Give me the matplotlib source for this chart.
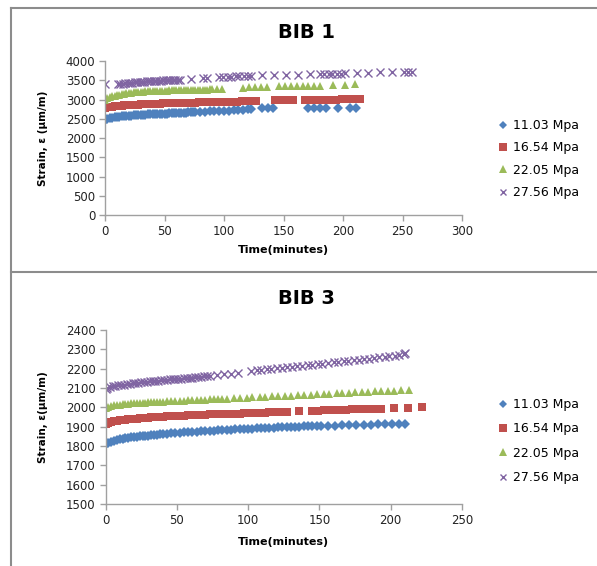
import matplotlib
matplotlib.use("Agg")
import matplotlib.pyplot as plt
from matplotlib.lines import Line2D

labels = ["11.03 Mpa", "16.54 Mpa", "22.05 Mpa", "27.56 Mpa"]
colors = ["#4F81BD", "#C0504D", "#9BBB59", "#8064A2"]
markers = ["D", "s", "^", "x"]
msizes = [4.6, 5.8, 6.0, 5.4]

##### BIB 1 data
b1_t1 = [0, 2, 4, 6, 8, 10, 12, 14, 16, 18, 20, 22, 24, 26, 28, 30, 32, 34, 36, 38, 40, 42, 44, 46, 48, 50,
         52, 54, 56, 58, 60, 62, 64, 66, 68, 70, 72, 74, 76, 80, 84, 88, 92, 96, 100, 104, 108, 112, 116, 120,
         123, 132, 137, 141, 171, 176, 181, 186, 196, 206, 211]
b1_s1 = [2480, 2500, 2515, 2525, 2535, 2545, 2552, 2560, 2566, 2572, 2578, 2583, 2588, 2592, 2596, 2600, 2604,
         2608, 2612, 2615, 2618, 2621, 2624, 2627, 2630, 2633, 2636, 2639, 2642, 2645, 2648, 2651, 2654, 2657,
         2660, 2663, 2666, 2669, 2672, 2680, 2686, 2692, 2698, 2703, 2708, 2712, 2718, 2725, 2740, 2760, 2765,
         2775, 2775, 2775, 2780, 2780, 2780, 2780, 2785, 2785, 2785]
b1_t2 = [0, 2, 4, 6, 8, 10, 12, 14, 16, 18, 20, 22, 24, 26, 28, 30, 32, 34, 36, 38, 43, 46, 49, 52, 55, 58, 61,
         64, 67, 70, 73, 76, 79, 82, 85, 88, 91, 94, 97, 103, 107, 111, 115, 119, 123, 127, 143, 148, 153, 158,
         168, 173, 178, 183, 189, 194, 199, 204, 209, 214]
b1_s2 = [2790, 2800, 2810, 2818, 2825, 2832, 2838, 2843, 2848, 2852, 2856, 2860, 2864, 2867, 2870, 2873, 2876,
         2879, 2882, 2885, 2890, 2894, 2897, 2900, 2903, 2906, 2909, 2912, 2914, 2917, 2919, 2922, 2924, 2926,
         2928, 2931, 2933, 2935, 2937, 2942, 2945, 2948, 2951, 2954, 2957, 2960, 2975, 2978, 2981, 2984, 2990,
         2992, 2994, 2996, 2998, 3000, 3002, 3004, 3006, 3008]
b1_t3 = [0, 2, 4, 6, 8, 10, 12, 14, 16, 18, 20, 22, 24, 26, 28, 30, 32, 34, 36, 38, 40, 42, 44, 46, 48, 50, 52,
         54, 56, 58, 60, 62, 64, 66, 68, 70, 72, 74, 76, 78, 80, 82, 84, 86, 88, 90, 94, 98, 116, 121, 126, 131,
         136, 146, 151, 156, 161, 166, 171, 176, 181, 192, 202, 210]
b1_s3 = [2990, 3030, 3060, 3080, 3095, 3110, 3125, 3140, 3150, 3160, 3170, 3178, 3185, 3190, 3195, 3200, 3204,
         3208, 3212, 3215, 3218, 3221, 3224, 3226, 3228, 3230, 3232, 3234, 3236, 3238, 3240, 3241, 3243, 3244,
         3246, 3247, 3249, 3250, 3252, 3253, 3255, 3256, 3258, 3259, 3260, 3262, 3264, 3266, 3310, 3315, 3318,
         3322, 3325, 3340, 3343, 3346, 3349, 3352, 3355, 3358, 3360, 3370, 3385, 3390]
b1_t4 = [0, 11, 13, 15, 17, 19, 21, 23, 25, 27, 29, 31, 33, 35, 37, 39, 41, 43, 45, 47, 49, 51, 53, 55, 57, 59,
         61, 63, 72, 82, 86, 96, 99, 103, 106, 110, 113, 117, 120, 123, 132, 142, 152, 162, 172, 181, 184, 188,
         191, 195, 198, 202, 212, 221, 231, 241, 251, 255, 258]
b1_s4 = [3390, 3400, 3408, 3415, 3422, 3428, 3434, 3440, 3445, 3450, 3455, 3460, 3464, 3468, 3472, 3476, 3480,
         3484, 3488, 3492, 3495, 3498, 3502, 3505, 3508, 3511, 3514, 3517, 3540, 3550, 3555, 3590, 3592, 3594,
         3596, 3598, 3600, 3602, 3604, 3606, 3625, 3630, 3640, 3645, 3650, 3665, 3667, 3668, 3670, 3672, 3674,
         3676, 3685, 3700, 3702, 3705, 3710, 3712, 3712]

##### BIB 3 data
b3_t1 = [0, 2, 4, 6, 8, 10, 12, 14, 16, 18, 20, 22, 24, 26, 28, 30, 32, 34, 36, 38, 40, 43, 46, 49, 52, 55, 58,
         61, 64, 67, 70, 73, 76, 79, 82, 85, 88, 91, 94, 97, 100, 103, 106, 109, 112, 115, 118, 121, 124, 127,
         130, 133, 136, 139, 142, 145, 148, 151, 156, 161, 166, 171, 176, 181, 186, 191, 196, 201, 206, 210]
b3_s1 = [1808, 1817, 1823, 1828, 1832, 1835, 1838, 1840, 1842, 1844, 1846, 1848, 1850, 1851, 1853, 1854, 1856,
         1857, 1859, 1860, 1861, 1863, 1865, 1867, 1869, 1870, 1872, 1873, 1875, 1876, 1878, 1879, 1880, 1882,
         1883, 1884, 1885, 1886, 1887, 1888, 1889, 1890, 1891, 1892, 1893, 1894, 1895, 1896, 1897, 1898, 1899,
         1900, 1900, 1901, 1901, 1902, 1903, 1904, 1905, 1906, 1907, 1908, 1909, 1910, 1911, 1912, 1913, 1914,
         1915, 1916]
b3_t2 = [0, 2, 4, 6, 8, 10, 12, 14, 16, 18, 20, 22, 24, 26, 28, 30, 32, 34, 36, 38, 40, 43, 46, 49, 52, 55, 58,
         61, 64, 67, 70, 73, 76, 79, 82, 85, 88, 91, 94, 97, 100, 103, 106, 109, 112, 115, 118, 121, 124, 127,
         136, 145, 149, 153, 157, 161, 165, 169, 173, 177, 181, 185, 189, 193, 202, 212, 222]
b3_s2 = [1915, 1921, 1925, 1928, 1931, 1933, 1935, 1937, 1938, 1940, 1941, 1942, 1944, 1945, 1946, 1947, 1948,
         1949, 1950, 1951, 1952, 1953, 1954, 1955, 1956, 1957, 1958, 1959, 1960, 1961, 1962, 1963, 1963, 1964,
         1965, 1966, 1967, 1967, 1968, 1969, 1970, 1971, 1971, 1972, 1973, 1974, 1974, 1975, 1976, 1976, 1979,
         1982, 1983, 1984, 1985, 1986, 1987, 1988, 1989, 1990, 1991, 1991, 1992, 1993, 1995, 1997, 2000]
b3_t3 = [0, 2, 4, 6, 8, 10, 12, 14, 16, 18, 20, 22, 24, 26, 28, 30, 32, 34, 36, 38, 40, 43, 46, 49, 52, 55, 58,
         61, 64, 67, 70, 73, 76, 79, 82, 85, 90, 94, 99, 103, 108, 112, 117, 121, 126, 130, 135, 139, 144, 148,
         153, 157, 162, 166, 171, 175, 180, 184, 189, 193, 198, 202, 207, 213]
b3_s3 = [1997, 2003, 2007, 2010, 2012, 2014, 2016, 2017, 2019, 2020, 2021, 2022, 2023, 2024, 2025, 2026, 2027,
         2028, 2028, 2029, 2030, 2031, 2032, 2033, 2034, 2035, 2036, 2037, 2038, 2039, 2040, 2041, 2042, 2043,
         2044, 2045, 2047, 2048, 2050, 2052, 2053, 2055, 2057, 2058, 2060, 2061, 2063, 2064, 2066, 2067, 2069,
         2070, 2072, 2073, 2075, 2077, 2079, 2080, 2082, 2083, 2085, 2086, 2088, 2090]
b3_t4 = [0, 1, 3, 5, 7, 9, 11, 13, 15, 17, 19, 21, 23, 25, 27, 29, 31, 33, 35, 37, 39, 41, 43, 45, 47, 49, 51,
         53, 55, 57, 59, 61, 63, 65, 67, 69, 71, 73, 78, 83, 88, 93, 102, 106, 109, 113, 116, 120, 124, 127,
         131, 134, 138, 142, 145, 149, 152, 156, 160, 163, 167, 170, 174, 178, 181, 185, 188, 192, 196, 199,
         203, 206, 209, 210]
b3_s4 = [2093, 2100, 2104, 2108, 2111, 2114, 2116, 2118, 2120, 2122, 2124, 2126, 2128, 2130, 2131, 2133, 2134,
         2136, 2137, 2138, 2140, 2141, 2142, 2144, 2145, 2146, 2148, 2149, 2150, 2152, 2153, 2154, 2156, 2157,
         2158, 2160, 2161, 2162, 2166, 2170, 2173, 2177, 2188, 2191, 2194, 2197, 2199, 2202, 2205, 2207, 2210,
         2212, 2215, 2218, 2221, 2224, 2226, 2229, 2232, 2235, 2238, 2240, 2243, 2246, 2249, 2252, 2255, 2258,
         2261, 2264, 2268, 2272, 2276, 2279]

b1_yticks = [0, 500, 1000, 1500, 2000, 2500, 3000, 3500, 4000]
b1_xticks = [0, 50, 100, 150, 200, 250, 300]
b3_yticks = [1500, 1600, 1700, 1800, 1900, 2000, 2100, 2200, 2300, 2400]
b3_xticks = [0, 50, 100, 150, 200, 250]

W, H = 597.0, 566.0
fig = plt.figure(figsize=(W / 100, H / 100), dpi=100)


def px(x0, y0, x1, y1):
    # pixel box -> figure coords
    return [x0 / W, 1 - y1 / H, (x1 - x0) / W, (y1 - y0) / H]


def panel(rect, series, xticks, yticks, title, ylab, title_y, xlab_y, leg_y, leg_space):
    ax = fig.add_axes(rect)
    for i, (t, s) in enumerate(series):
        if markers[i] == "x":
            ax.plot(t, s, linestyle="none", marker="x", ms=msizes[i], mew=1.0,
                    color=colors[i], label=labels[i])
        else:
            ax.plot(t, s, linestyle="none", marker=markers[i], ms=msizes[i], mew=0,
                    color=colors[i], label=labels[i])
    ax.set_xlim(xticks[0], xticks[-1])
    ax.set_ylim(yticks[0], yticks[-1])
    ax.set_xticks(xticks)
    ax.set_yticks(yticks)
    for sp in ["top", "right"]:
        ax.spines[sp].set_visible(False)
    for sp in ["left", "bottom"]:
        ax.spines[sp].set_color("#A0A0A0")
        ax.spines[sp].set_linewidth(1.0)
    ax.tick_params(direction="out", length=4, width=1, color="#A0A0A0",
                   labelsize=8.5, labelcolor="#222222", pad=3)
    fig.text(306 / W, 1 - title_y / H, title, ha="center", va="center",
             fontsize=14, fontweight="bold")
    ymid = rect[1] + rect[3] / 2
    fig.text(43 / W, ymid, ylab, ha="center", va="center",
             rotation=90, fontsize=7.5, fontweight="bold")
    fig.text(283 / W, 1 - xlab_y / H, "Time(minutes)", ha="center", va="center",
             fontsize=8, fontweight="bold")
    ax.legend(loc="center left", bbox_to_anchor=(498 / W, 1 - leg_y / H),
              bbox_transform=fig.transFigure, frameon=False, fontsize=9,
              handlelength=0.8, handletextpad=0.4, labelspacing=leg_space,
              borderpad=0, borderaxespad=0, markerscale=0.9)
    return ax


panel(px(105, 61, 462, 215),
      [(b1_t1, b1_s1), (b1_t2, b1_s2), (b1_t3, b1_s3), (b1_t4, b1_s4)],
      b1_xticks, b1_yticks, "BIB 1", "Strain, \u03b5 (\u03bcm/m)", 32, 250, 159, 0.75)
panel(px(105.5, 330, 462, 504),
      [(b3_t1, b3_s1), (b3_t2, b3_s2), (b3_t3, b3_s3), (b3_t4, b3_s4)],
      b3_xticks, b3_yticks, "BIB 3", "Strain, \u03b5(\u03bcm/m)", 299, 542, 441, 0.9)

# panel frames
bc = "#8C8C8C"
fig.add_artist(Line2D([11 / W, 1.0], [1 - 8 / H, 1 - 8 / H], color=bc, lw=1.5))
fig.add_artist(Line2D([11 / W, 1.0], [1 - 272 / H, 1 - 272 / H], color=bc, lw=1.5))
fig.add_artist(Line2D([11 / W, 11 / W], [1 - 8 / H, 0.0], color=bc, lw=1.5))

fig.savefig("out.png", dpi=100)
